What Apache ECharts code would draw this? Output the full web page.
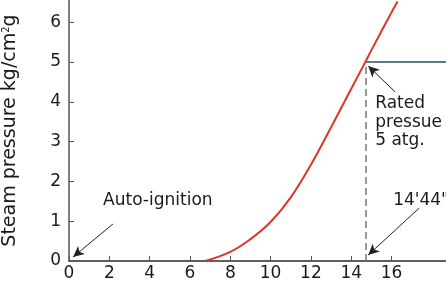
<!DOCTYPE html>
<html>
<head>
<meta charset="utf-8">
<script src="https://cdn.jsdelivr.net/npm/echarts@6/dist/echarts.min.js"></script>
<style>
  html, body { margin: 0; padding: 0; background: #fff; }
  #chart { width: 446px; height: 283px; }
</style>
</head>
<body>
<div id="chart"></div>
<script>
// steam pressure curve (minutes, kg/cm2g)
const pressureCurve = [
  [6.75, 0], [8, 0.23], [9, 0.55], [10, 0.98], [11, 1.6],
  [12, 2.42], [13, 3.36], [14, 4.33], [14.7, 5.0],
  [15, 5.3], [16, 6.25], [16.3, 6.52]
];
const ratedPressure = 5;
const ratedTime = 14.7;
const xTicks = [0, 2, 4, 6, 8, 10, 12, 14, 16];
// annotation text: [x, y, text]
const notes = [
  [1.69, 1.53, 'Auto-ignition'],
  [16.08, 1.53, '14\'44"'],
  [15.19, 3.49, 'Rated\npressue\n5 atg.']
];
// arrows: [fromX, fromY, toX, toY]
const arrows = [
  [2.18, 0.93, 0.2, 0.1],
  [16.18, 4.25, 14.84, 4.9],
  [17.37, 1.33, 14.84, 0.15]
];

const textColor = '#1a1a1a';
const font = 'DejaVu Sans';

const chart = echarts.init(document.getElementById('chart'));
chart.setOption({
  animation: false,
  grid: { left: 69, right: 0, top: 0, bottom: 22, containLabel: false, outerBoundsMode: 'none' },
  xAxis: {
    type: 'value',
    min: 0,
    max: 18.7,
    interval: 2,
    axisLine: { lineStyle: { color: '#2b2b2b', width: 1.5 } },
    axisTick: { inside: true, length: 5, customValues: xTicks, lineStyle: { color: '#555' } },
    axisLabel: { customValues: xTicks, margin: 4, fontSize: 17, fontFamily: font, color: textColor },
    splitLine: { show: false }
  },
  yAxis: {
    type: 'value',
    min: 0,
    max: 6.56,
    interval: 1,
    name: '{t|Steam pressure kg/cm}{s|2}{t|g}',
    nameLocation: 'middle',
    nameRotate: 90,
    nameGap: 49,
    nameTextStyle: {
      fontSize: 19, fontFamily: font, color: textColor,
      rich: {
        t: { fontSize: 19, fontFamily: font, color: textColor },
        s: { fontSize: 10, fontFamily: font, color: textColor, verticalAlign: 'top', lineHeight: 19 }
      }
    },
    axisLine: { lineStyle: { color: '#555', width: 1.5 } },
    axisTick: { inside: true, length: 5, lineStyle: { color: '#555' } },
    axisLabel: {
      margin: 8, fontSize: 17, fontFamily: font, color: textColor,
      showMaxLabel: false
    },
    splitLine: { show: false }
  },
  series: [
    {
      type: 'line',
      data: pressureCurve,
      smooth: 0.4,
      showSymbol: false,
      lineStyle: { color: '#d8372a', width: 2 },
      z: 3
    },
    {
      type: 'line',
      data: [[ratedTime, ratedPressure], [18.7, ratedPressure]],
      showSymbol: false,
      lineStyle: { color: '#23535a', width: 1.6 },
      z: 2,
      markLine: {
        silent: true,
        symbol: ['none', 'none'],
        label: { show: false },
        lineStyle: { color: '#7a7a7a', type: [7, 4], width: 1.5 },
        data: [[{ coord: [ratedTime, 0] }, { coord: [ratedTime, ratedPressure] }]]
      }
    },
    {
      type: 'scatter',
      symbolSize: 0,
      itemStyle: { opacity: 1 },
      data: notes.map(n => ({ value: [n[0], n[1]], name: n[2] })),
      label: {
        show: true,
        position: 'inside',
        align: 'left',
        verticalAlign: 'middle',
        formatter: p => p.name,
        fontSize: 17,
        lineHeight: 18.5,
        fontFamily: font,
        color: textColor,
        opacity: 1
      },
      markLine: {
        silent: true,
        symbol: ['none', 'arrow'],
        symbolSize: [8, 11],
        label: { show: false },
        lineStyle: { color: '#222', type: 'solid', width: 1, opacity: 1 },
        data: arrows.map(a => [{ coord: [a[0], a[1]] }, { coord: [a[2], a[3]] }])
      }
    }
  ]
});
</script>
</body>
</html>
